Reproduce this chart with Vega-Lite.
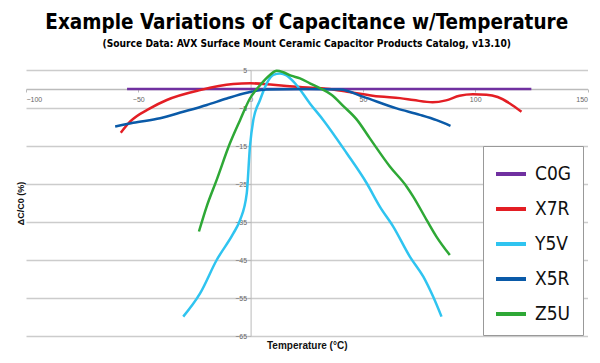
{
  "$schema": "https://vega.github.io/schema/vega-lite/v6.json",
  "width": 561.5,
  "height": 266,
  "autosize": "none",
  "padding": {"left": 26, "top": 70, "right": 12.5, "bottom": 27},
  "background": "white",
  "title": {
    "text": "Example Variations of Capacitance w/Temperature",
    "subtitle": "(Source Data: AVX Surface Mount Ceramic Capacitor Products Catalog, v13.10)",
    "font": "DejaVu Sans Condensed, Liberation Sans",
    "fontSize": 20.5,
    "fontWeight": "bold",
    "color": "#000",
    "subtitleFont": "DejaVu Sans Condensed, Liberation Sans",
    "subtitleFontSize": 10.2,
    "subtitleFontWeight": "bold",
    "subtitleColor": "#000",
    "subtitlePadding": 5,
    "anchor": "middle",
    "frame": "group",
    "offset": 17
  },
  "config": {"view": {"stroke": null}},
  "data": {
    "values": [
      {"t": -55, "v": 0, "s": "C0G"},
      {"t": 0, "v": 0, "s": "C0G"},
      {"t": 50, "v": 0, "s": "C0G"},
      {"t": 125, "v": 0, "s": "C0G"},

      {"t": -57.8, "v": -11.5, "s": "X7R"},
      {"t": -53.7, "v": -8.6, "s": "X7R"},
      {"t": -44.8, "v": -5.1, "s": "X7R"},
      {"t": -37.3, "v": -2.9, "s": "X7R"},
      {"t": -22.5, "v": -0.3, "s": "X7R"},
      {"t": -7.8, "v": 1.3, "s": "X7R"},
      {"t": 0, "v": 1.5, "s": "X7R"},
      {"t": 10, "v": 1.1, "s": "X7R"},
      {"t": 22, "v": 0.5, "s": "X7R"},
      {"t": 35, "v": 0, "s": "X7R"},
      {"t": 43, "v": -0.7, "s": "X7R"},
      {"t": 57.6, "v": -2.0, "s": "X7R"},
      {"t": 66.5, "v": -2.4, "s": "X7R"},
      {"t": 72.5, "v": -2.9, "s": "X7R"},
      {"t": 81, "v": -3.5, "s": "X7R"},
      {"t": 87, "v": -3.0, "s": "X7R"},
      {"t": 93, "v": -1.8, "s": "X7R"},
      {"t": 99, "v": -1.4, "s": "X7R"},
      {"t": 105, "v": -1.5, "s": "X7R"},
      {"t": 110, "v": -2.1, "s": "X7R"},
      {"t": 115.4, "v": -3.8, "s": "X7R"},
      {"t": 120.6, "v": -6.0, "s": "X7R"},

      {"t": -30, "v": -59.9, "s": "Y5V"},
      {"t": -22.5, "v": -53.8, "s": "Y5V"},
      {"t": -15.1, "v": -45, "s": "Y5V"},
      {"t": -7.7, "v": -38, "s": "Y5V"},
      {"t": -4.7, "v": -34.5, "s": "Y5V"},
      {"t": -1.7, "v": -27.4, "s": "Y5V"},
      {"t": -0.3, "v": -15.2, "s": "Y5V"},
      {"t": 1.2, "v": -8.2, "s": "Y5V"},
      {"t": 4.2, "v": -2.9, "s": "Y5V"},
      {"t": 7.2, "v": 1.5, "s": "Y5V"},
      {"t": 10.1, "v": 3.7, "s": "Y5V"},
      {"t": 13.1, "v": 4.1, "s": "Y5V"},
      {"t": 16, "v": 3.6, "s": "Y5V"},
      {"t": 20.5, "v": 1.0, "s": "Y5V"},
      {"t": 26.4, "v": -3.8, "s": "Y5V"},
      {"t": 32.4, "v": -8.2, "s": "Y5V"},
      {"t": 42.8, "v": -16.9, "s": "Y5V"},
      {"t": 51.7, "v": -24.8, "s": "Y5V"},
      {"t": 57.6, "v": -31, "s": "Y5V"},
      {"t": 63.5, "v": -36.2, "s": "Y5V"},
      {"t": 70.9, "v": -44.1, "s": "Y5V"},
      {"t": 76.9, "v": -49.4, "s": "Y5V"},
      {"t": 81.3, "v": -54.7, "s": "Y5V"},
      {"t": 85, "v": -59.9, "s": "Y5V"},

      {"t": -60.3, "v": -9.9, "s": "X5R"},
      {"t": -52.3, "v": -8.9, "s": "X5R"},
      {"t": -40.3, "v": -7.7, "s": "X5R"},
      {"t": -30, "v": -6.0, "s": "X5R"},
      {"t": -19.5, "v": -4.2, "s": "X5R"},
      {"t": -10.6, "v": -2.5, "s": "X5R"},
      {"t": -1.7, "v": -1.0, "s": "X5R"},
      {"t": 7, "v": -0.1, "s": "X5R"},
      {"t": 25, "v": 0, "s": "X5R"},
      {"t": 40, "v": -0.1, "s": "X5R"},
      {"t": 50, "v": -2.0, "s": "X5R"},
      {"t": 65, "v": -5.1, "s": "X5R"},
      {"t": 75.4, "v": -6.8, "s": "X5R"},
      {"t": 82.8, "v": -8.2, "s": "X5R"},
      {"t": 89, "v": -9.7, "s": "X5R"},

      {"t": -23, "v": -37.5, "s": "Z5U"},
      {"t": -19.6, "v": -31, "s": "Z5U"},
      {"t": -15.1, "v": -23.9, "s": "Z5U"},
      {"t": -9.2, "v": -14.3, "s": "Z5U"},
      {"t": -4.7, "v": -8.2, "s": "Z5U"},
      {"t": -0.3, "v": -2.5, "s": "Z5U"},
      {"t": 4.2, "v": 1.0, "s": "Z5U"},
      {"t": 8.6, "v": 3.7, "s": "Z5U"},
      {"t": 11.6, "v": 4.8, "s": "Z5U"},
      {"t": 14.6, "v": 4.4, "s": "Z5U"},
      {"t": 18, "v": 3.5, "s": "Z5U"},
      {"t": 22, "v": 2.8, "s": "Z5U"},
      {"t": 26.4, "v": 1.5, "s": "Z5U"},
      {"t": 30.9, "v": 0.2, "s": "Z5U"},
      {"t": 36, "v": -1.5, "s": "Z5U"},
      {"t": 41.3, "v": -4.5, "s": "Z5U"},
      {"t": 47.2, "v": -8.0, "s": "Z5U"},
      {"t": 53.1, "v": -13, "s": "Z5U"},
      {"t": 62, "v": -20.4, "s": "Z5U"},
      {"t": 69.5, "v": -25.7, "s": "Z5U"},
      {"t": 72.4, "v": -28.3, "s": "Z5U"},
      {"t": 78.4, "v": -34.5, "s": "Z5U"},
      {"t": 82.8, "v": -38.9, "s": "Z5U"},
      {"t": 88.7, "v": -43.7, "s": "Z5U"}
    ]
  },
  "layer": [
    {
      "mark": {"type": "line", "strokeOpacity": 0},
      "encoding": {
        "x": {
          "field": "t", "type": "quantitative",
          "scale": {"domain": [-100, 150], "nice": false, "zero": false},
          "axis": {"orient": "bottom", "labels": false, "ticks": false, "domain": false, "grid": false,
                   "title": "Temperature (°C)", "titleFont": "Liberation Sans", "titleFontSize": 10,
                   "titleFontWeight": "bold", "titleColor": "#111", "titlePadding": 4}
        },
        "y": {
          "field": "v", "type": "quantitative",
          "scale": {"domain": [-65, 5], "nice": false, "zero": false},
          "axis": {"orient": "left", "labels": false, "ticks": false, "domain": false, "grid": true,
                   "values": [5, -5, -15, -25, -35, -45, -55, -65], "gridColor": "#cccccc", "gridWidth": 1.5,
                   "title": "ΔC/C0 (%)", "titleFont": "Liberation Sans", "titleFontSize": 9,
                   "titleFontWeight": "bold", "titleColor": "#111", "titlePadding": 1}
        },
        "detail": {"field": "s"}
      }
    },
    {
      "mark": {"type": "line", "strokeWidth": 2.5, "interpolate": "monotone"},
      "encoding": {
        "x": {
          "field": "t", "type": "quantitative",
          "axis": {"orient": "bottom", "offset": -247, "values": [-100, -50, 0, 50, 100, 150],
                   "grid": false, "domainColor": "#bbbbbb", "domainWidth": 1.5, "tickColor": "#bbbbbb", "tickSize": 3,
                   "labelFont": "Liberation Sans", "labelFontSize": 7, "labelColor": "#666", "labelPadding": 3,
                   "title": null}
        },
        "y": {
          "field": "v", "type": "quantitative",
          "axis": {"orient": "left", "offset": -224.6, "values": [5, -5, -15, -25, -35, -45, -55, -65],
                   "grid": false, "domainColor": "#bbbbbb", "domainWidth": 1, "tickColor": "#bbbbbb", "tickSize": 3,
                   "labelFont": "Liberation Sans", "labelFontSize": 7, "labelColor": "#666", "labelPadding": 1,
                   "title": null}
        },
        "color": {
          "field": "s", "type": "nominal",
          "scale": {"domain": ["C0G", "X7R", "Y5V", "X5R", "Z5U"],
                    "range": ["#7030a0", "#e31e24", "#2fc4f0", "#0a5aa8", "#2ea836"]},
          "legend": {
            "orient": "none", "legendX": 457, "legendY": 76, "title": null,
            "fillColor": "white", "strokeColor": "#999999", "padding": 11,
            "symbolType": "stroke", "symbolSize": 900, "symbolStrokeWidth": 4,
            "labelFont": "DejaVu Sans Condensed, Liberation Sans", "labelFontSize": 19, "labelColor": "#111",
            "labelOffset": 7, "rowPadding": 8
          }
        }
      }
    }
  ],
  "resolve": {"axis": {"x": "independent", "y": "independent"}}
}
